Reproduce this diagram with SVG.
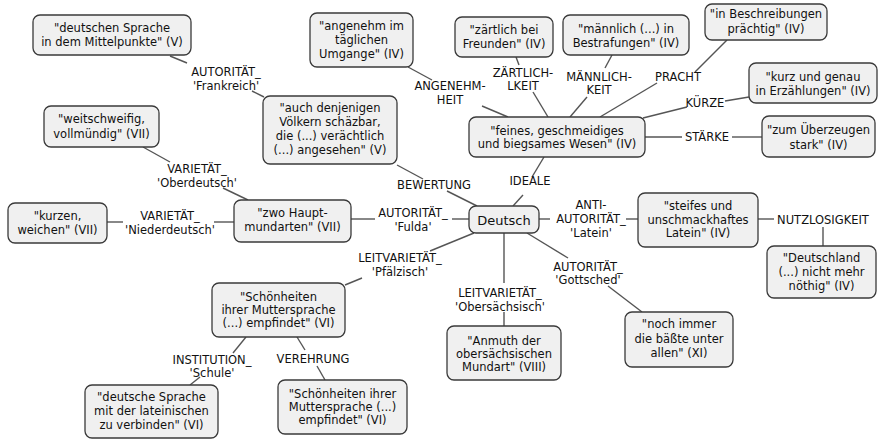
<svg xmlns="http://www.w3.org/2000/svg" width="879" height="439" viewBox="0 0 879 439">
<style>
.n rect{fill:#f0f0f0;stroke:#3a3a3a;stroke-width:1.3}
text{font-family:"DejaVu Sans",Verdana,sans-serif;font-size:11.5px;fill:#111;text-anchor:middle}
.big{font-size:13px}
#connectors line{stroke:#555;stroke-width:1.4}
</style>
<rect width="879" height="439" fill="#fff"/>
<g id="connectors">
<line x1="170" y1="56" x2="187" y2="63"/><line x1="252" y1="91" x2="264" y2="97"/>
<line x1="143" y1="147" x2="170" y2="162"/><line x1="223" y1="188" x2="248" y2="200"/>
<line x1="107" y1="222" x2="123" y2="222"/><line x1="214" y1="222" x2="234" y2="222"/>
<line x1="351" y1="219" x2="375" y2="219"/><line x1="452" y1="219" x2="469" y2="219"/>
<line x1="397" y1="165" x2="423" y2="179"/><line x1="447" y1="191" x2="477" y2="206"/>
<line x1="544" y1="157" x2="532" y2="177"/><line x1="523" y1="195" x2="513" y2="206"/>
<line x1="408" y1="67" x2="432" y2="80"/><line x1="482" y1="106" x2="508" y2="117"/>
<line x1="516" y1="57" x2="519" y2="65"/><line x1="533" y1="92" x2="548" y2="117"/>
<line x1="612" y1="55" x2="605" y2="68"/><line x1="587" y1="97" x2="570" y2="117"/>
<line x1="727" y1="40" x2="695" y2="72"/><line x1="657" y1="83" x2="600" y2="117"/>
<line x1="749" y1="97" x2="725" y2="101"/><line x1="687" y1="107" x2="643" y2="118"/>
<line x1="645" y1="137" x2="682" y2="137"/><line x1="732" y1="137" x2="762" y2="137"/>
<line x1="539" y1="219" x2="550" y2="219"/><line x1="626" y1="219" x2="638" y2="219"/>
<line x1="758" y1="219" x2="774" y2="219"/><line x1="823" y1="227" x2="823" y2="246"/>
<line x1="527" y1="233" x2="568" y2="258"/><line x1="608" y1="286" x2="642" y2="312"/>
<line x1="504" y1="233" x2="504" y2="283"/><line x1="504" y1="312" x2="504" y2="326"/>
<line x1="474" y1="233" x2="430" y2="251"/><line x1="362" y1="278" x2="345" y2="285"/>
<line x1="246" y1="337" x2="233" y2="353"/><line x1="200" y1="377" x2="190" y2="385"/>
<line x1="297" y1="337" x2="305" y2="350"/><line x1="317" y1="366" x2="325" y2="380"/>
</g>
<g id="labels">
<text x="226" y="76">AUTORITÄT_</text><text x="226" y="90">'Frankreich'</text>
<text x="197" y="173">VARIETÄT_</text><text x="197" y="187">'Oberdeutsch'</text>
<text x="170" y="220">VARIETÄT_</text><text x="170" y="234">'Niederdeutsch'</text>
<text x="413" y="217">AUTORITÄT_</text><text x="413" y="231">'Fulda'</text>
<text x="434" y="189">BEWERTUNG</text>
<text x="530" y="185">IDEALE</text>
<text x="450" y="90">ANGENEHM-</text><text x="450" y="104">HEIT</text>
<text x="523" y="77">ZÄRTLICH-</text><text x="523" y="90">LKEIT</text>
<text x="599" y="81">MÄNNLICH-</text><text x="599" y="94">KEIT</text>
<text x="678" y="81">PRACHT</text>
<text x="705" y="107">KÜRZE</text>
<text x="707" y="141">STÄRKE</text>
<text x="591" y="209">ANTI-</text><text x="591" y="223">AUTORITÄT_</text><text x="591" y="237">'Latein'</text>
<text x="823" y="224">NUTZLOSIGKEIT</text>
<text x="588" y="271">AUTORITÄT_</text><text x="588" y="284">'Gottsched'</text>
<text x="500" y="297">LEITVARIETÄT_</text><text x="500" y="311">'Obersächsisch'</text>
<text x="400" y="262">LEITVARIETÄT_</text><text x="400" y="276">'Pfälzisch'</text>
<text x="212" y="364">INSTITUTION_</text><text x="212" y="377">'Schule'</text>
<text x="313" y="363">VEREHRUNG</text>
</g>
<g id="n1" class="n"><rect x="33" y="15" width="158" height="40" rx="7"/><text x="112" y="32">"deutschen Sprache</text><text x="112" y="46">in dem Mittelpunkte" (V)</text></g>
<g id="n2" class="n"><rect x="44" y="106" width="115" height="41" rx="7"/><text x="101.5" y="123">"weitschweifig,</text><text x="101.5" y="138">vollmündig" (VII)</text></g>
<g id="n3" class="n"><rect x="310" y="13" width="103" height="54" rx="7"/><text x="361.5" y="30">"angenehm im</text><text x="361.5" y="44">täglichen</text><text x="361.5" y="58">Umgange" (IV)</text></g>
<g id="n4" class="n"><rect x="455" y="17" width="98" height="40" rx="7"/><text x="504" y="34">"zärtlich bei</text><text x="504" y="48">Freunden" (IV)</text></g>
<g id="n5" class="n"><rect x="563" y="15" width="126" height="40" rx="7"/><text x="626" y="33">"männlich (...) in</text><text x="626" y="47">Bestrafungen" (IV)</text></g>
<g id="n6" class="n"><rect x="705" y="4" width="122" height="36" rx="7"/><text x="766" y="18">"in Beschreibungen</text><text x="766" y="33">prächtig" (IV)</text></g>
<g id="n7" class="n"><rect x="749" y="63" width="128" height="40" rx="7"/><text x="813" y="81">"kurz und genau</text><text x="813" y="95">in Erzählungen" (IV)</text></g>
<g id="n8" class="n"><rect x="762" y="116" width="113" height="41" rx="7"/><text x="818.5" y="134">"zum Überzeugen</text><text x="818.5" y="149">stark" (IV)</text></g>
<g id="n9" class="n"><rect x="469" y="117" width="176" height="40" rx="7"/><text x="557" y="135">"feines, geschmeidiges</text><text x="557" y="148">und biegsames Wesen" (IV)</text></g>
<g id="n10" class="n"><rect x="263" y="96" width="134" height="68" rx="7"/><text x="330" y="112">"auch denjenigen</text><text x="330" y="126">Völkern schäzbar,</text><text x="330" y="140">die (...) verächtlich</text><text x="330" y="154">(...) angesehen" (V)</text></g>
<g id="n11" class="n"><rect x="234" y="200" width="117" height="42" rx="7"/><text x="292.5" y="217">"zwo Haupt-</text><text x="292.5" y="231">mundarten" (VII)</text></g>
<g id="n12" class="n"><rect x="8" y="203" width="99" height="40" rx="7"/><text x="57.5" y="220">"kurzen,</text><text x="57.5" y="234">weichen" (VII)</text></g>
<g id="n13" class="n"><rect x="469" y="206" width="70" height="27" rx="7"/><text class="big" x="504" y="224.5">Deutsch</text></g>
<g id="n14" class="n"><rect x="638" y="193" width="120" height="54" rx="7"/><text x="698" y="210">"steifes und</text><text x="698" y="224">unschmackhaftes</text><text x="698" y="237">Latein" (IV)</text></g>
<g id="n15" class="n"><rect x="767" y="246" width="109" height="52" rx="7"/><text x="821.5" y="262">"Deutschland</text><text x="821.5" y="276">(...) nicht mehr</text><text x="821.5" y="290">nöthig" (IV)</text></g>
<g id="n16" class="n"><rect x="625" y="312" width="108" height="55" rx="7"/><text x="679" y="328">"noch immer</text><text x="679" y="343">die bäßte unter</text><text x="679" y="357">allen" (XI)</text></g>
<g id="n17" class="n"><rect x="447" y="326" width="114" height="54" rx="7"/><text x="504" y="345">"Anmuth der</text><text x="504" y="358">obersächsischen</text><text x="504" y="371">Mundart" (VIII)</text></g>
<g id="n18" class="n"><rect x="212" y="283" width="133" height="54" rx="7"/><text x="278.5" y="301">"Schönheiten</text><text x="278.5" y="314">ihrer Muttersprache</text><text x="278.5" y="327">(...) empfindet" (VI)</text></g>
<g id="n19" class="n"><rect x="85" y="385" width="133" height="53" rx="7"/><text x="151.5" y="401">"deutsche Sprache</text><text x="151.5" y="415">mit der lateinischen</text><text x="151.5" y="429">zu verbinden" (VI)</text></g>
<g id="n20" class="n"><rect x="278" y="380" width="129" height="54" rx="7"/><text x="342.5" y="398">"Schönheiten ihrer</text><text x="342.5" y="411">Muttersprache (...)</text><text x="342.5" y="424">empfindet" (VI)</text></g>
</svg>
